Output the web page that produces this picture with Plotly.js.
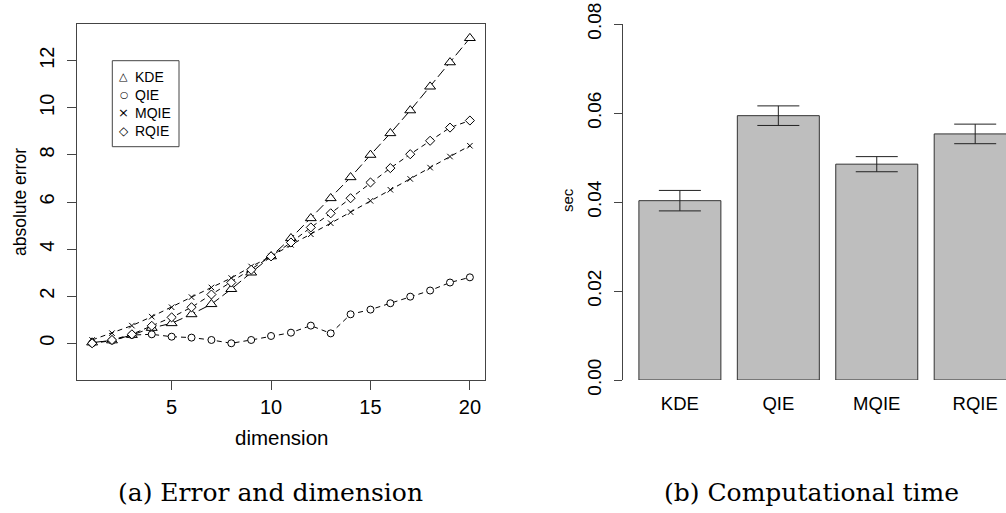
<!DOCTYPE html>
<html><head><meta charset="utf-8">
<script src="https://cdn.plot.ly/plotly-3.0.1.min.js"></script>
<style>html,body{margin:0;padding:0;background:#fff;overflow:hidden}</style>
</head><body><div id="chart" style="width:1006px;height:513px"></div>
<script>
// ---------- data ----------
const dimension = [1,2,3,4,5,6,7,8,9,10,11,12,13,14,15,16,17,18,19,20];
const kdeError  = [0.03,0.12,0.35,0.65,0.85,1.23,1.66,2.30,3.00,3.69,4.46,5.31,6.16,7.05,8.00,8.92,9.89,10.90,11.93,12.96];
const qieError  = [0.00,0.11,0.35,0.38,0.28,0.24,0.14,0.00,0.14,0.31,0.45,0.75,0.42,1.23,1.43,1.70,1.98,2.24,2.58,2.80];
const mqieError = [0.14,0.43,0.75,1.13,1.53,1.96,2.37,2.77,3.26,3.69,4.18,4.63,5.10,5.57,6.05,6.52,6.98,7.46,7.93,8.39];
const rqieError = [0.00,0.14,0.38,0.74,1.10,1.53,2.07,2.58,3.12,3.69,4.28,4.92,5.52,6.16,6.83,7.44,8.03,8.60,9.16,9.46];
const seriesNames = ['KDE','QIE','MQIE','RQIE'];

const methods   = ['KDE','QIE','MQIE','RQIE'];
const timeSec   = [0.0403,0.0594,0.0485,0.0553];
const timeErr   = [0.0023,0.0022,0.0017,0.0022];

const xTicks = [5,10,15,20];
const yTicks = [0,2,4,6,8,10,12];
const secTicks = [0,0.02,0.04,0.06,0.08];
const secTickText = ['0.00','0.02','0.04','0.06','0.08'];

const captionA = '(a) Error and dimension';
const captionB = '(b) Computational time';

// ---------- layout helpers ----------
const W = 1006, H = 513;
const px = v => v / W;
const py = v => 1 - v / H;
const SANS = 'Liberation Sans, Arial, Helvetica, sans-serif';
const SERIF = 'DejaVu Serif, serif';
const AX = '#444';

function lineTrace(y, name, symbol, size, dash) {
  const open = symbol.indexOf('x-thin') === 0;
  return {
    x: dimension, y: y, name: name, type: 'scatter', mode: 'lines+markers',
    xaxis: 'x', yaxis: 'y', showlegend: false,
    line: {color: '#000', width: 1, dash: dash},
    marker: {symbol: symbol, size: size, color: open ? '#000' : '#fff',
             line: {color: '#000', width: 1}}
  };
}

const traces = [
  lineTrace(kdeError,  seriesNames[0], 'triangle-up', 9.5, '10px,4px'),
  lineTrace(qieError,  seriesNames[1], 'circle', 7, '5px,4px'),
  lineTrace(mqieError, seriesNames[2], 'x-thin-open', 5.5, '5px,4px'),
  lineTrace(rqieError, seriesNames[3], 'diamond', 7, '5px,4px'),
  {
    type: 'bar', x: methods, y: timeSec, xaxis: 'x2', yaxis: 'y2', showlegend: false,
    marker: {color: '#bebebe', line: {color: '#333', width: 1}},
    error_y: {type: 'data', array: timeErr, visible: true, color: '#222', thickness: 1, width: 21}
  }
];

const plotTop = 24, plotBottom = 380;

const annotations = [
  {text: 'dimension', x: px(281), y: py(437), xref: 'paper', yref: 'paper', showarrow: false,
   xanchor: 'center', yanchor: 'middle', font: {family: SANS, size: 20.5, color: '#000'}},
  {text: 'absolute error', x: px(20), y: py(202), xref: 'paper', yref: 'paper', showarrow: false,
   textangle: -90, xanchor: 'center', yanchor: 'middle', font: {family: SANS, size: 17.5, color: '#000'}},
  {text: 'sec', x: px(567), y: py(200), xref: 'paper', yref: 'paper', showarrow: false,
   textangle: -90, xanchor: 'center', yanchor: 'middle', font: {family: SANS, size: 15, color: '#000'}},
  {text: captionA, x: px(270), y: py(492), xref: 'paper', yref: 'paper', showarrow: false,
   xanchor: 'center', yanchor: 'middle', font: {family: SERIF, size: 25, color: '#000'}},
  {text: captionB, x: px(811), y: py(492), xref: 'paper', yref: 'paper', showarrow: false,
   xanchor: 'center', yanchor: 'middle', font: {family: SERIF, size: 25, color: '#000'}}
];

// legend (drawn as text: symbol glyphs + names)
const legendSymbols = ['\u25B3', '\u25CB', '\u00D7', '\u25C7'];
const legendSymSizes = [11, 9.5, 13, 12];
const legendRows = [76.7, 94.7, 112.7, 130.5];
seriesNames.forEach((n, i) => {
  annotations.push({text: legendSymbols[i], x: px(123.7), y: py(legendRows[i]), xref: 'paper', yref: 'paper',
    showarrow: false, xanchor: 'center', yanchor: 'middle', font: {family: 'DejaVu Sans, sans-serif', size: legendSymSizes[i], color: '#000'}});
  annotations.push({text: n, x: px(132.5), y: py(legendRows[i]), xref: 'paper', yref: 'paper',
    showarrow: false, xanchor: 'left', yanchor: 'middle', font: {family: SANS, size: 14, color: '#000'}});
});

const layout = {
  width: W, height: H, margin: {l: 0, r: 0, t: 0, b: 0},
  paper_bgcolor: '#fff', plot_bgcolor: '#fff', showlegend: false,
  bargap: 0.167,
  font: {family: SANS, color: '#000'},
  xaxis: {
    domain: [px(77), px(485)], range: [0.24, 20.76], anchor: 'y',
    tickmode: 'array', tickvals: xTicks, ticks: 'outside', ticklen: 9, tickcolor: AX, tickwidth: 1,
    showline: true, mirror: true, linecolor: AX, linewidth: 1,
    showgrid: false, zeroline: false, tickfont: {size: 20, family: SANS, color: '#000'}, ticklabelstandoff: 0
  },
  yaxis: {
    domain: [py(plotBottom), py(plotTop)], range: [-1.56, 13.56], anchor: 'x',
    tickmode: 'array', tickvals: yTicks, ticks: 'outside', ticklen: 9, tickcolor: AX, tickwidth: 1,
    tickangle: -90, showline: true, mirror: true, linecolor: AX, linewidth: 1,
    showgrid: false, zeroline: false, tickfont: {size: 20, family: SANS, color: '#000'}, ticklabelstandoff: 5
  },
  xaxis2: {
    domain: [px(623), 1], type: 'category', range: [-0.578, 3.313], anchor: 'y2',
    showline: false, ticks: '', showgrid: false, zeroline: false,
    tickfont: {size: 18.5, family: SANS, color: '#000'}, ticklabelstandoff: 10
  },
  yaxis2: {
    domain: [py(plotBottom), py(plotTop)], range: [0, 0.08], anchor: 'x2',
    tickmode: 'array', tickvals: secTicks, ticktext: secTickText, ticks: 'outside', ticklen: 8,
    tickcolor: AX, tickwidth: 1, tickangle: -90, showline: true, linecolor: AX, linewidth: 1,
    showgrid: false, zeroline: false, tickfont: {size: 19, family: SANS, color: '#000'}, ticklabelstandoff: 5
  },
  shapes: [
    {type: 'rect', xref: 'paper', yref: 'paper', x0: px(112.3), x1: px(179), y0: py(146.7), y1: py(60.7),
     line: {color: AX, width: 1}, fillcolor: 'rgba(0,0,0,0)'}
  ],
  annotations: annotations
};

Plotly.newPlot('chart', traces, layout, {staticPlot: true, displayModeBar: false});
</script>
</body></html>
